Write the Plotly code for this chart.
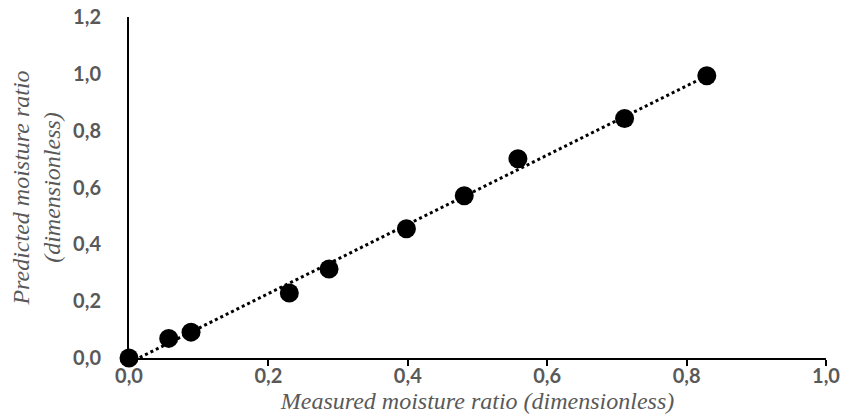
import numpy as np
import plotly.graph_objects as go

measured = [0.0, 0.057, 0.089, 0.230, 0.287, 0.398, 0.481, 0.558, 0.711, 0.829]
predicted = [0.0, 0.069, 0.091, 0.229, 0.313, 0.455, 0.571, 0.701, 0.843, 0.993]
x_ticks = [0.0, 0.2, 0.4, 0.6, 0.8, 1.0]
y_ticks = [0.0, 0.2, 0.4, 0.6, 0.8, 1.0, 1.2]

# linear trendline (least squares) across the data range
coef = np.polyfit(measured, predicted, 1)
trend_x = [min(measured), max(measured)]
trend_y = [coef[0] * v + coef[1] for v in trend_x]

fig = go.Figure()
fig.add_trace(go.Scatter(x=trend_x, y=trend_y, mode="lines",
                         line=dict(color="black", width=3, dash="dot"),
                         hoverinfo="skip", showlegend=False))
fig.add_trace(go.Scatter(x=measured, y=predicted, mode="markers",
                         marker=dict(color="black", size=19),
                         cliponaxis=False, showlegend=False))

tickfont = dict(family="Lato", size=20, color="#595959", weight="bold")
titlefont = dict(family="Liberation Serif, Times New Roman, DejaVu Serif, serif",
                 size=24, color="#595959", style="italic", weight="normal")

# page body has an 8px margin; figure sized to fit the 849x414 window
fig.update_layout(
    width=841, height=406,
    margin=dict(l=121, r=23, t=9, b=56),
    paper_bgcolor="white", plot_bgcolor="white",
    separators=",.",
    xaxis=dict(range=[0, 1.0], tickvals=x_ticks, tickformat=".1f", automargin=False,
               showgrid=False, zeroline=False, showline=True, linecolor="black", linewidth=2,
               ticks="outside", ticklen=6, tickwidth=2, tickcolor="black",
               tickfont=tickfont, ticklabelstandoff=-7, ticklabeloverflow="allow",
               title=dict(text="Measured moisture ratio (dimensionless)", font=titlefont)),
    yaxis=dict(range=[0, 1.2], tickvals=y_ticks, tickformat=".1f", automargin=False,
               showgrid=False, zeroline=False, showline=True, linecolor="black", linewidth=2,
               ticks="", tickfont=tickfont, ticklabelstandoff=22, ticklabeloverflow="allow",
               title=dict(text="Predicted moisture ratio<br>(dimensionless)", font=titlefont)),
)

fig.write_html("out.html")
